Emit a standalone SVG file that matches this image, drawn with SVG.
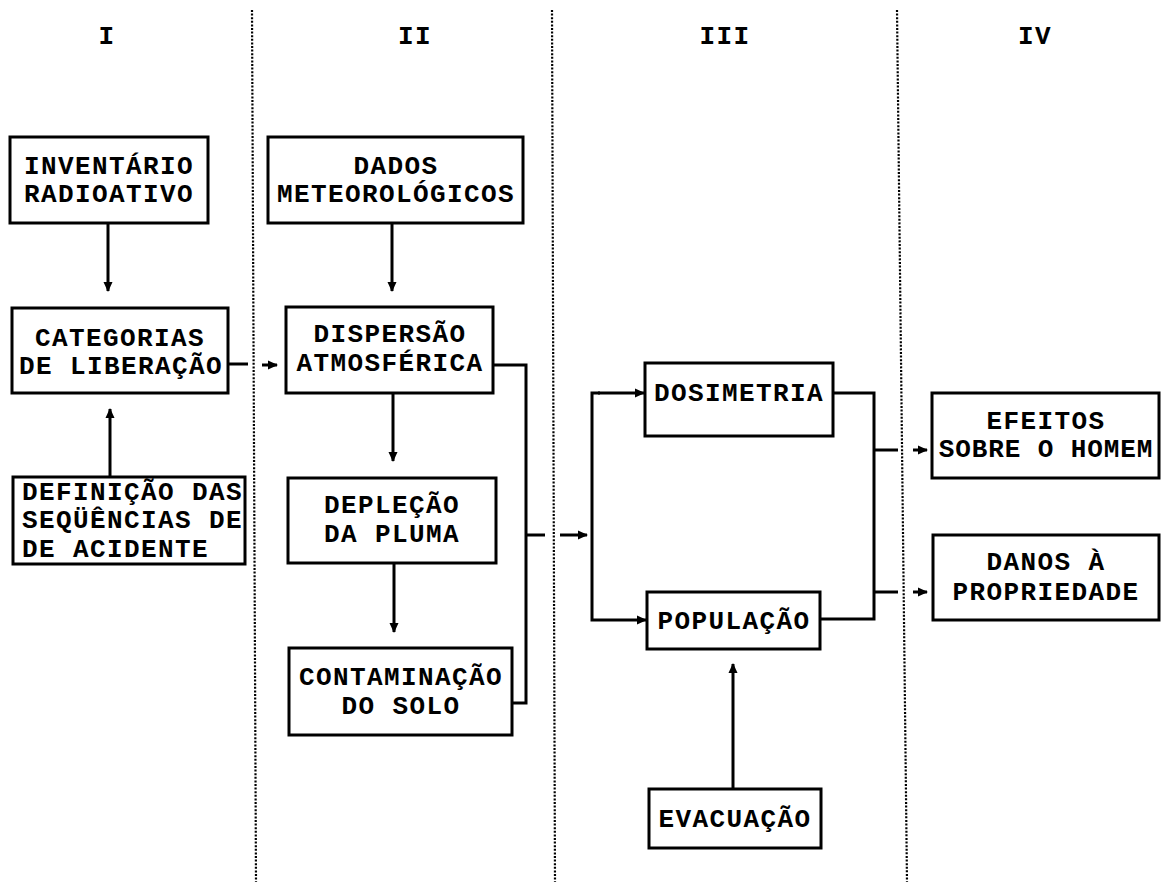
<svg xmlns="http://www.w3.org/2000/svg" width="1161" height="884" viewBox="0 0 1161 884">
<style>
.box{fill:#fff;stroke:#000;stroke-width:3}
.t{font-family:"Liberation Mono","DejaVu Sans Mono",monospace;font-weight:bold;font-size:26px;letter-spacing:1.4px;fill:#000;text-anchor:middle}
.ts{text-anchor:start}
.c{fill:none;stroke:#000;stroke-width:3}
.dot{fill:none;stroke:#000;stroke-width:2.2;stroke-dasharray:2 1.6}
</style>
<defs>
<marker id="ah" markerWidth="10" markerHeight="10" refX="9" refY="5" orient="auto" markerUnits="userSpaceOnUse">
<path d="M0,0.5 L10,5 L0,9.5 Z" fill="#000"/>
</marker>
</defs>
<rect width="1161" height="884" fill="#fff"/>
<g id="columns">
<line class="dot" x1="252" y1="10" x2="256" y2="882"/>
<line class="dot" x1="552" y1="10" x2="555" y2="882"/>
<line class="dot" x1="897" y1="10" x2="907" y2="882"/>
<text class="t" x="107" y="44">I</text>
<text class="t" x="415" y="44">II</text>
<text class="t" x="725" y="44">III</text>
<text class="t" x="1035" y="44">IV</text>
</g>
<g id="connectors">
<line class="c" x1="108" y1="223" x2="108" y2="291" marker-end="url(#ah)"/>
<line class="c" x1="110" y1="477" x2="110" y2="409" marker-end="url(#ah)"/>
<line class="c" x1="228" y1="364" x2="248" y2="364"/>
<line class="c" x1="262" y1="365" x2="277" y2="365" marker-end="url(#ah)"/>
<line class="c" x1="392" y1="223" x2="392" y2="291" marker-end="url(#ah)"/>
<line class="c" x1="393" y1="393" x2="393" y2="461" marker-end="url(#ah)"/>
<line class="c" x1="394" y1="563" x2="394" y2="632" marker-end="url(#ah)"/>
<polyline class="c" points="493,365 526,365 526,703 512,703"/>
<line class="c" x1="526" y1="535" x2="545" y2="535"/>
<line class="c" x1="560" y1="535" x2="587" y2="535" marker-end="url(#ah)"/>
<polyline class="c" points="600,393 592,393 592,620 646,620" marker-end="url(#ah)"/>
<line class="c" x1="598" y1="393" x2="644" y2="393" marker-end="url(#ah)"/>
<line class="c" x1="733" y1="789" x2="733" y2="664" marker-end="url(#ah)"/>
<polyline class="c" points="833,393 874,393 874,619 820,619"/>
<line class="c" x1="874" y1="450" x2="898" y2="450"/>
<line class="c" x1="913" y1="450" x2="927" y2="450" marker-end="url(#ah)"/>
<line class="c" x1="874" y1="592" x2="898" y2="592"/>
<line class="c" x1="913" y1="592" x2="927" y2="592" marker-end="url(#ah)"/>
</g>
<g id="inventario">
<rect class="box" x="10" y="137" width="198" height="86"/>
<text class="t" x="109" y="173.5">INVENTÁRIO</text>
<text class="t" x="109" y="201.5">RADIOATIVO</text>
</g>
<g id="categorias">
<rect class="box" x="12" y="308" width="216" height="85"/>
<text class="t" x="120" y="345.5">CATEGORIAS</text>
<text class="t" x="121" y="373.5">DE LIBERAÇÃO</text>
</g>
<g id="definicao">
<rect class="box" x="13" y="477" width="232" height="87"/>
<text class="t ts" x="22" y="499.5">DEFINIÇÃO DAS</text>
<text class="t ts" x="22" y="528">SEQÜÊNCIAS DE</text>
<text class="t ts" x="22" y="556.5">DE ACIDENTE</text>
</g>
<g id="dados">
<rect class="box" x="268" y="137" width="255" height="86"/>
<text class="t" x="396" y="173.5">DADOS</text>
<text class="t" x="396" y="201.5">METEOROLÓGICOS</text>
</g>
<g id="dispersao">
<rect class="box" x="286" y="307" width="207" height="86"/>
<text class="t" x="390" y="341.5">DISPERSÃO</text>
<text class="t" x="390" y="370.5">ATMOSFÉRICA</text>
</g>
<g id="deplecao">
<rect class="box" x="288" y="478" width="208" height="85"/>
<text class="t" x="392" y="512.5">DEPLEÇÃO</text>
<text class="t" x="392" y="541.5">DA PLUMA</text>
</g>
<g id="contaminacao">
<rect class="box" x="289" y="648" width="223" height="87"/>
<text class="t" x="401" y="684.5">CONTAMINAÇÃO</text>
<text class="t" x="401" y="713.5">DO SOLO</text>
</g>
<g id="dosimetria">
<rect class="box" x="645" y="363" width="188" height="73"/>
<text class="t" x="739" y="400.5">DOSIMETRIA</text>
</g>
<g id="populacao">
<rect class="box" x="647" y="592" width="173" height="57"/>
<text class="t" x="734" y="628.5">POPULAÇÃO</text>
</g>
<g id="evacuacao">
<rect class="box" x="649" y="789" width="172" height="59"/>
<text class="t" x="735" y="826.5">EVACUAÇÃO</text>
</g>
<g id="efeitos">
<rect class="box" x="932" y="393" width="227" height="85"/>
<text class="t" x="1046" y="428.5">EFEITOS</text>
<text class="t" x="1046" y="456.5" style="letter-spacing:0.9px">SOBRE O HOMEM</text>
</g>
<g id="danos">
<rect class="box" x="933" y="535" width="226" height="85"/>
<text class="t" x="1046" y="570">DANOS À</text>
<text class="t" x="1046" y="599.5">PROPRIEDADE</text>
</g>
</svg>
